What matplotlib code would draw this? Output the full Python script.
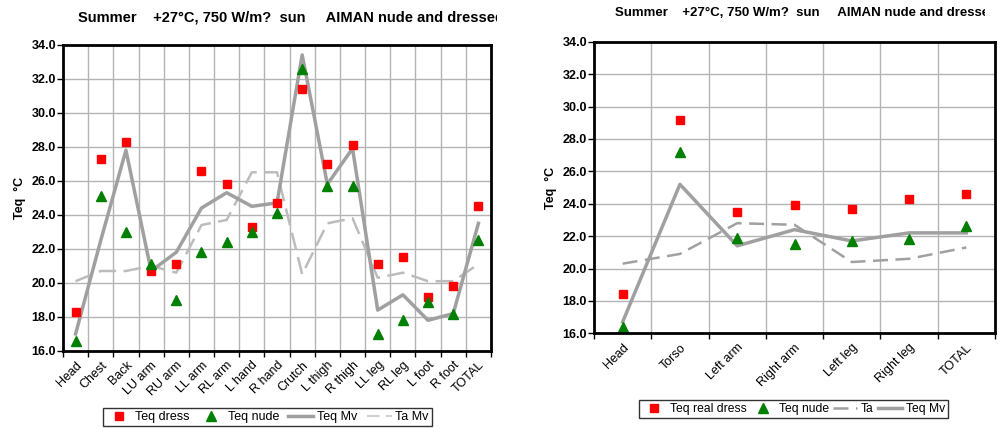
import matplotlib
import matplotlib.pyplot as plt
from matplotlib.lines import Line2D
from matplotlib.transforms import Bbox
import numpy as np

matplotlib.use("Agg")
plt.rcParams["font.family"] = ["Liberation Sans", "DejaVu Sans"]

# left chart: 17 body segments
seg_labels = ["Head", "Chest", "Back", "LU arm", "RU arm", "LL arm", "RL arm",
              "L hand", "R hand", "Crutch", "L thigh", "R thigh", "LL leg",
              "RL leg", "L foot", "R foot", "TOTAL"]
seg_teq_dress = [18.3, 27.3, 28.3, 20.7, 21.1, 26.6, 25.8, 23.3, 24.7, 31.4,
                 27.0, 28.1, 21.1, 21.5, 19.2, 19.8, 24.5]
seg_teq_nude = [16.6, 25.1, 23.0, 21.1, 19.0, 21.8, 22.4, 23.0, 24.1, 32.6,
                25.7, 25.7, 17.0, 17.8, 18.9, 18.2, 22.5]
seg_teq_mv = [17.0, 22.5, 27.8, 20.7, 21.8, 24.4, 25.3, 24.5, 24.7, 33.4,
              25.8, 27.9, 18.4, 19.3, 17.8, 18.2, 23.5]
seg_ta_mv = [20.1, 20.7, 20.7, 21.0, 20.6, 23.4, 23.7, 26.5, 26.5, 20.5,
             23.5, 23.8, 20.3, 20.6, 20.1, 20.1, 21.1]

# right chart: 7 body groups
grp_labels = ["Head", "Torso", "Left arm", "Right arm", "Left leg", "Right leg", "TOTAL"]
grp_teq_dress = [18.4, 29.2, 23.5, 23.9, 23.7, 24.3, 24.6]
grp_teq_nude = [16.4, 27.2, 21.9, 21.5, 21.7, 21.8, 22.6]
grp_ta = [20.3, 20.9, 22.8, 22.7, 20.4, 20.6, 21.3]
grp_teq_mv = [16.7, 25.2, 21.4, 22.4, 21.7, 22.2, 22.2]

TITLE = "Summer    +27°C, 750 W/m?  sun     AIMAN nude and dressed"
GRID = "#b4b4b4"
LINE = "#a0a0a0"


def setup_axes(ax, labels):
    n = len(labels)
    x = np.arange(n)
    ax.set_xlim(-0.5, n - 0.5)
    ax.set_ylim(16, 34)
    ax.set_yticks(np.arange(16, 34.1, 2))
    ax.set_yticklabels([f"{v:.1f}" for v in np.arange(16, 34.1, 2)],
                       fontsize=9, fontweight="bold")
    ax.set_xticks(x)
    ax.set_xticklabels(labels, rotation=45, ha="right", rotation_mode="anchor",
                       fontsize=9)
    ax.tick_params(axis="x", which="major", length=0, pad=6)
    ax.set_xticks(np.arange(n + 1) - 0.5, minor=True)
    ax.tick_params(axis="x", which="minor", length=4, width=1)
    ax.tick_params(axis="y", length=4, width=1, pad=1)
    ax.grid(True, which="minor", axis="x", color=GRID, lw=1)
    ax.grid(True, which="major", axis="y", color=GRID, lw=1)
    ax.set_axisbelow(True)
    for s in ax.spines.values():
        s.set_linewidth(2)
    ax.set_ylabel("Teq  °C", fontsize=9, fontweight="bold", labelpad=4)
    return x


def add_legend(handles, labels, anchor, fs, colsp):
    leg = fig.legend(handles, labels, ncol=4, loc="upper left",
                     bbox_to_anchor=anchor, borderaxespad=0, fontsize=fs,
                     frameon=True, fancybox=False, edgecolor="black",
                     borderpad=0.25, handlelength=2.0, columnspacing=colsp,
                     handletextpad=0.3)
    leg.get_frame().set_linewidth(1)
    return leg


fig = plt.figure(figsize=(10, 4.28), dpi=100)

# left chart
ax1 = fig.add_axes([0.063, 0.18, 0.428, 0.7156])
x1 = setup_axes(ax1, seg_labels)
ax1.plot(x1, seg_ta_mv, color="#bcbcbc", lw=1.8, ls=(0, (7, 3)))
ax1.plot(x1, seg_teq_mv, color=LINE, lw=2.5)
ax1.plot(x1, seg_teq_dress, ls="none", marker="s", ms=6, color="red")
ax1.plot(x1, seg_teq_nude, ls="none", marker="^", ms=7.5, color="green")
t1 = fig.text(0.078, 0.96, TITLE, fontsize=10.5, fontweight="bold", va="center")
t1.set_clip_box(Bbox([[0, 0], [497, 428]]))
t1.set_clip_on(True)

h1 = [Line2D([], [], ls="none", marker="s", ms=6, color="red"),
      Line2D([], [], ls="none", marker="^", ms=7.5, color="green"),
      Line2D([], [], color=LINE, lw=2.5),
      Line2D([], [], color="#d0d0d0", lw=1.5, ls=(0, (6, 3)))]
add_legend(h1, ["Teq dress", "Teq nude", "Teq Mv", "Ta Mv"], (0.103, 0.0467), 9, 0.75)

# right chart
ax2 = fig.add_axes([0.594, 0.2213, 0.401, 0.681])
x2 = setup_axes(ax2, grp_labels)
ax2.plot(x2, grp_ta, color=LINE, lw=1.8, ls=(0, (6, 3)))
ax2.plot(x2, grp_teq_mv, color=LINE, lw=2.5)
ax2.plot(x2, grp_teq_dress, ls="none", marker="s", ms=5.5, color="red")
ax2.plot(x2, grp_teq_nude, ls="none", marker="^", ms=7, color="green")
t2 = fig.text(0.615, 0.97, TITLE, fontsize=9.5, fontweight="bold", va="center")
t2.set_clip_box(Bbox([[0, 0], [985, 428]]))
t2.set_clip_on(True)

h2 = [Line2D([], [], ls="none", marker="s", ms=5.5, color="red"),
      Line2D([], [], ls="none", marker="^", ms=7, color="green"),
      Line2D([], [], color=LINE, lw=1.8, ls=(0, (6, 3))),
      Line2D([], [], color=LINE, lw=2.5)]
add_legend(h2, ["Teq real dress", "Teq nude", "Ta", "Teq Mv"], (0.639, 0.0654), 8.7, 0.35)

fig.savefig("out.png", dpi=100, facecolor="white")
